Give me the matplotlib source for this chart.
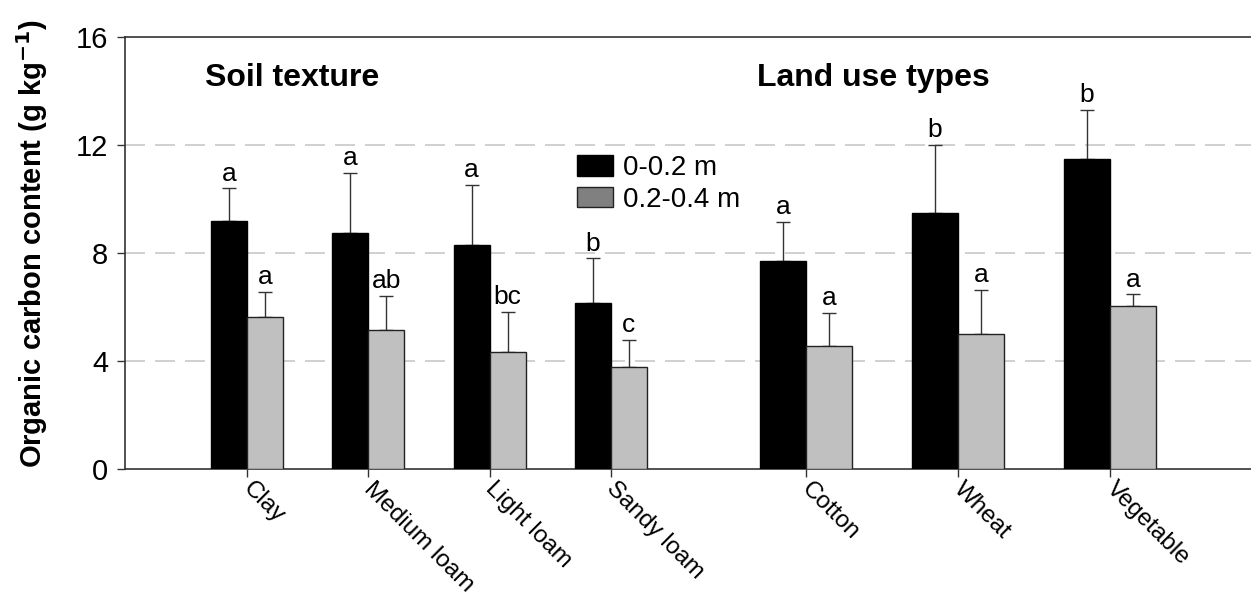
import matplotlib
matplotlib.use('Agg')
import matplotlib.pyplot as plt
import matplotlib.transforms as mtransforms
from matplotlib.patches import Patch

plt.rcParams['font.family'] = ['Liberation Sans', 'DejaVu Sans']

# Data: organic carbon content (g/kg), mean and upper SE, two depths
soil_labels = ['Clay', 'Medium loam', 'Light loam', 'Sandy loam']
soil_top = [9.19, 8.73, 8.32, 6.16]
soil_top_err = [1.21, 2.24, 2.22, 1.65]
soil_sub = [5.62, 5.16, 4.33, 3.78]
soil_sub_err = [0.95, 1.26, 1.48, 1.01]
soil_top_letters = ['a', 'a', 'a', 'b']
soil_sub_letters = ['a', 'ab', 'bc', 'c']

land_labels = ['Cotton', 'Wheat', 'Vegetable']
land_top = [7.70, 9.48, 11.49]
land_top_err = [1.47, 2.53, 1.81]
land_sub = [4.56, 5.00, 6.06]
land_sub_err = [1.22, 1.63, 0.41]
land_top_letters = ['a', 'b', 'b']
land_sub_letters = ['a', 'a', 'a']

depths = ['0-0.2 m', '0.2-0.4 m']

fig = plt.figure(figsize=(12.51, 6.0), dpi=100)
ax = fig.add_axes([0.0999, 0.2183, 0.9001, 0.7195])

err_kw = dict(ecolor='#333333', elinewidth=1.0, capsize=4.7, capthick=1.0)


def draw_group(start, step, width, top, top_err, sub, sub_err, top_let, sub_let):
    centers = [start + i * step for i in range(len(top))]
    x_top = [c - width / 2 for c in centers]
    x_sub = [c + width / 2 for c in centers]
    ax.bar(x_top, top, width=width, color='black', edgecolor='black', linewidth=1, zorder=3)
    ax.bar(x_sub, sub, width=width, color='#c0c0c0', edgecolor='#222222', linewidth=1, zorder=3)
    ax.errorbar(x_top, top, yerr=[[0] * len(top), top_err], fmt='none', zorder=2, **err_kw)
    ax.errorbar(x_sub, sub, yerr=[[0] * len(sub), sub_err], fmt='none', zorder=2, **err_kw)
    for x, v, e, t in zip(x_top, top, top_err, top_let):
        ax.annotate(t, (x, v + e), xytext=(0, 2), textcoords='offset points',
                    ha='center', va='bottom', fontsize=19)
    for x, v, e, t in zip(x_sub, sub, sub_err, sub_let):
        ax.annotate(t, (x, v + e), xytext=(0, 2), textcoords='offset points',
                    ha='center', va='bottom', fontsize=19)
    return centers


c1 = draw_group(122, 121.3, 36, soil_top, soil_top_err, soil_sub, soil_sub_err,
                soil_top_letters, soil_sub_letters)
c2 = draw_group(681, 152, 46, land_top, land_top_err, land_sub, land_sub_err,
                land_top_letters, land_sub_letters)

ax.set_xlim(0, 1126)
ax.set_ylim(0, 16)
ax.set_yticks([0, 4, 8, 12, 16])
ax.tick_params(axis='y', labelsize=21, length=6, width=1, direction='out',
               color='#333333', pad=6)
ax.set_xticks(c1 + c2)
ax.set_xticklabels(soil_labels + land_labels, rotation=-45, ha='left', va='top',
                   rotation_mode='anchor', fontsize=17.5)
ax.tick_params(axis='x', length=6, width=1, direction='out', color='#333333', pad=3)
shift = mtransforms.ScaledTranslation(0.07, 0.04, fig.dpi_scale_trans)
for lbl in ax.get_xticklabels():
    lbl.set_transform(lbl.get_transform() + shift)

for y in [4, 8, 12]:
    ax.axhline(y, color='#c8c8c8', linewidth=1.2, linestyle=(0, (12, 6)), zorder=1)

ax.spines['right'].set_visible(False)
for s in ['left', 'top', 'bottom']:
    ax.spines[s].set_color('#333333')
    ax.spines[s].set_linewidth(1.2)

ax.set_ylabel('Organic carbon content (g kg$^{\\mathbf{-1}}$)', fontsize=21,
              fontweight='bold')
ax.yaxis.set_label_coords(-0.0666, 0.522)

ax.text(80, 14.5, 'Soil texture', fontsize=23, fontweight='bold', va='center', ha='left')
ax.text(632, 14.5, 'Land use types', fontsize=23, fontweight='bold', va='center', ha='left')

handles = [Patch(facecolor='black', edgecolor='black'),
           Patch(facecolor='#808080', edgecolor='#222222')]
ax.legend(handles, depths, loc='upper left', bbox_to_anchor=(0.4015, 0.727), frameon=False,
          fontsize=20, handlelength=1.3, handleheight=0.75, handletextpad=0.35,
          labelspacing=0.2, borderaxespad=0, borderpad=0)

fig.savefig('out.png', dpi=100)
